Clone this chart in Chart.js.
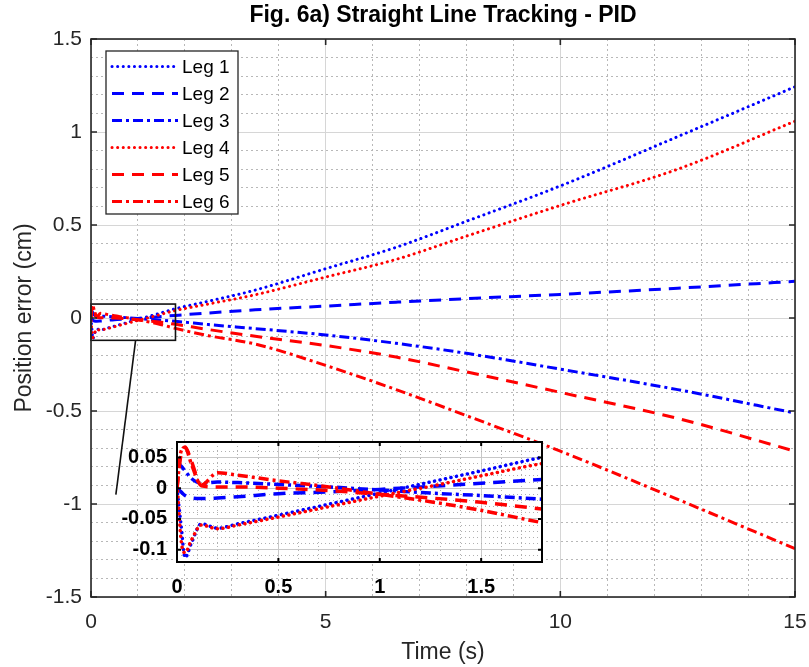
<!DOCTYPE html>
<html>
<head>
<meta charset="utf-8">
<script src="https://cdn.jsdelivr.net/npm/chart.js@4.4.1/dist/chart.umd.min.js"></script>
<style>
  body { margin: 0; background: #fff; }
  #wrap { position: relative; width: 809px; height: 667px; }
  #main { position: absolute; left: 0; top: 0; }
  #inset { position: absolute; left: 100px; top: 432px; }
</style>
</head>
<body>
<div id="wrap">
  <canvas id="main" width="809" height="667"></canvas>
  <canvas id="inset" width="450" height="170"></canvas>
</div>
<script>
// time samples (s) and position error per leg (cm)
const timeS = [0, 0.02, 0.04, 0.07, 0.12, 0.2, 0.3, 0.5, 0.75, 1, 1.25, 1.5, 1.8, 2.5, 3.5, 5, 6.5, 8, 10, 12.5, 15];
const leg1 = [0, -0.06, -0.113, -0.09, -0.058, -0.065, -0.058, -0.044, -0.026, -0.008, 0.01, 0.028, 0.05, 0.09, 0.15, 0.265, 0.38, 0.52, 0.71, 0.975, 1.243];
const leg2 = [0, -0.006, -0.012, -0.016, -0.017, -0.016, -0.014, -0.009, -0.006, -0.002, 0.003, 0.008, 0.014, 0.027, 0.044, 0.064, 0.085, 0.104, 0.127, 0.16, 0.197];
const leg3 = [0.04, 0.036, 0.028, 0.016, 0.008, 0.01, 0.009, 0.006, 0.002, -0.003, -0.008, -0.012, -0.018, -0.035, -0.057, -0.091, -0.136, -0.19, -0.275, -0.385, -0.511];
const leg4 = [0.013, -0.084, -0.105, -0.085, -0.06, -0.066, -0.06, -0.047, -0.03, -0.013, 0.003, 0.02, 0.04, 0.075, 0.125, 0.22, 0.315, 0.44, 0.605, 0.8, 1.058];
const leg5 = [0, 0.055, 0.067, 0.045, 0.004, 0.002, 0.002, 0, -0.004, -0.01, -0.016, -0.023, -0.034, -0.062, -0.098, -0.148, -0.21, -0.29, -0.4, -0.54, -0.716];
const leg6 = [0, 0.06, 0.066, 0.04, 0.005, 0.025, 0.021, 0.012, 0.002, -0.01, -0.022, -0.036, -0.056, -0.095, -0.14, -0.255, -0.385, -0.525, -0.716, -0.975, -1.24];

const legLabels = ['Leg 1', 'Leg 2', 'Leg 3', 'Leg 4', 'Leg 5', 'Leg 6'];
const legValues = [leg1, leg2, leg3, leg4, leg5, leg6];

// labelled ticks
const xTicksMain = [0, 5, 10, 15];
const yTicksMain = [-1.5, -1, -0.5, 0, 0.5, 1, 1.5];
const xTicksInset = [0, 0.5, 1, 1.5];
const yTicksInset = [-0.1, -0.05, 0, 0.05];

// zoomed window shown in the inset
const zoomX = [0, 1.8];
const zoomY = [-0.12, 0.075];

Chart.defaults.font.family = "'Liberation Sans', Arial, sans-serif";

const legColors = ['#0000ff', '#0000ff', '#0000ff', '#ff0000', '#ff0000', '#ff0000'];
const legKinds = ['dot', 'dash', 'dashdot', 'dot', 'dash', 'dashdot'];
const dashes = { dot: [0.1, 5.5], dash: [12, 8], dashdot: [10, 4, 3, 4] };

function makeDatasets(width, clip) {
  return legLabels.map((label, i) => ({
    label: label,
    data: timeS.map((t, j) => ({ x: t, y: legValues[i][j] })),
    borderColor: legColors[i],
    borderWidth: width,
    borderDash: dashes[legKinds[i]],
    borderCapStyle: legKinds[i] === 'dot' ? 'round' : 'butt',
    pointRadius: 0,
    fill: false,
    cubicInterpolationMode: 'monotone',
    order: legLabels.length - i,
    clip: clip
  }));
}

function near(list, v) {
  return list.find(t => Math.abs(t - v) < 1e-6);
}
function labelFor(list, v) {
  const t = near(list, v);
  return t === undefined ? '' : String(t);
}
// keep the label overflow from eating into the plot area
function noOverflow(s) {
  s.paddingLeft = 0; s.paddingRight = 0; s.paddingTop = 0; s.paddingBottom = 0;
}

// box round the plot with inward tick marks, like matlab
function frameTicks(id, majorX, majorY, color, width, len) {
  return {
    id: id,
    afterDraw(chart) {
      const { ctx, chartArea: a, scales } = chart;
      ctx.save();
      ctx.strokeStyle = color;
      ctx.lineWidth = width;
      ctx.beginPath();
      majorX.forEach(v => {
        const px = scales.x.getPixelForValue(v);
        ctx.moveTo(px, a.bottom); ctx.lineTo(px, a.bottom - len);
        ctx.moveTo(px, a.top); ctx.lineTo(px, a.top + len);
      });
      majorY.forEach(v => {
        const py = scales.y.getPixelForValue(v);
        ctx.moveTo(a.left, py); ctx.lineTo(a.left + len, py);
        ctx.moveTo(a.right, py); ctx.lineTo(a.right - len, py);
      });
      ctx.stroke();
      ctx.strokeRect(a.left, a.top, a.right - a.left, a.bottom - a.top);
      ctx.restore();
    }
  };
}

const zoomMark = {
  id: 'zoomMark',
  afterDatasetsDraw(chart) {
    const { ctx, scales: { x, y } } = chart;
    const x0 = x.getPixelForValue(zoomX[0]), x1 = x.getPixelForValue(zoomX[1]);
    const y0 = y.getPixelForValue(zoomY[1]), y1 = y.getPixelForValue(zoomY[0]);
    ctx.save();
    ctx.strokeStyle = '#111';
    ctx.lineWidth = 1.6;
    ctx.strokeRect(x0, y0, x1 - x0, y1 - y0);
    ctx.beginPath();
    ctx.moveTo(x.getPixelForValue(0.95), y1);
    ctx.lineTo(x.getPixelForValue(0.53), y.getPixelForValue(-0.95));
    ctx.stroke();
    ctx.restore();
  }
};

const legendBox = {
  id: 'legendBox',
  afterDraw(chart) {
    const { ctx, chartArea } = chart;
    const sets = chart.data.datasets;
    const x0 = chartArea.left + 15, y0 = chartArea.top + 12, w = 132, rowH = 27;
    const h = rowH * sets.length + 1;
    ctx.save();
    ctx.fillStyle = '#fff';
    ctx.fillRect(x0, y0, w, h);
    ctx.strokeStyle = '#262626';
    ctx.lineWidth = 1.3;
    ctx.strokeRect(x0, y0, w, h);
    ctx.font = "19px 'Liberation Sans', Arial, sans-serif";
    ctx.textBaseline = 'middle';
    sets.forEach((ds, i) => {
      const cy = y0 + 15.5 + i * rowH;
      ctx.beginPath();
      ctx.setLineDash(ds.borderDash);
      ctx.lineCap = ds.borderCapStyle;
      ctx.strokeStyle = ds.borderColor;
      ctx.lineWidth = ds.borderWidth;
      ctx.moveTo(x0 + 6, cy);
      ctx.lineTo(x0 + 72, cy);
      ctx.stroke();
      ctx.setLineDash([]);
      ctx.fillStyle = '#000';
      ctx.fillText(ds.label, x0 + 76, cy + 1);
    });
    ctx.restore();
  }
};

const plotBg = {
  id: 'plotBg',
  beforeDraw(chart) {
    const { ctx, chartArea: a } = chart;
    ctx.save();
    ctx.fillStyle = '#fff';
    ctx.fillRect(a.left, a.top, a.right - a.left, a.bottom - a.top);
    ctx.restore();
  }
};

new Chart(document.getElementById('main'), {
  type: 'line',
  data: { datasets: makeDatasets(3, undefined) },
  options: {
    responsive: false,
    animation: false,
    layout: { padding: { left: 0, right: 14, top: 0, bottom: 0 } },
    plugins: {
      legend: { display: false },
      tooltip: { enabled: false },
      title: {
        display: true,
        fullSize: false,
        text: 'Fig. 6a) Straight Line Tracking - PID',
        color: '#000',
        font: { size: 23, weight: 'bold' },
        padding: { top: 2, bottom: 9.4 }
      }
    },
    scales: {
      x: {
        type: 'linear', min: 0, max: 15,
        ticks: {
          stepSize: 1, autoSkip: false, maxRotation: 0, padding: 13,
          color: '#262626', font: { size: 21 },
          callback: v => labelFor(xTicksMain, v)
        },
        grid: {
          drawTicks: false, lineWidth: 1,
          color: c => near(xTicksMain, c.tick ? c.tick.value : 0) !== undefined ? '#d6d6d6' : '#b8b8b8'
        },
        border: {
          display: false,
          dash: c => (c.tick && near(xTicksMain, c.tick.value) === undefined) ? [2, 3] : []
        },
        title: { display: true, text: 'Time (s)', color: '#262626', font: { size: 23 }, padding: { top: 0, bottom: 1 } },
        afterFit: s => { s.height = 70; noOverflow(s); }
      },
      y: {
        type: 'linear', min: -1.5, max: 1.5,
        ticks: {
          stepSize: 0.1, autoSkip: false, padding: 9,
          color: '#262626', font: { size: 21 },
          callback: v => labelFor(yTicksMain, v)
        },
        grid: {
          drawTicks: false, lineWidth: 1,
          color: c => near(yTicksMain, c.tick ? c.tick.value : 0) !== undefined ? '#d6d6d6' : '#b8b8b8'
        },
        border: {
          display: false,
          dash: c => (c.tick && near(yTicksMain, c.tick.value) === undefined) ? [2, 3] : []
        },
        title: { display: true, text: 'Position error (cm)', color: '#262626', font: { size: 23 }, padding: { top: 11, bottom: 0 } },
        afterFit: s => { s.width = 91; noOverflow(s); }
      }
    }
  },
  plugins: [frameTicks('frameMain', xTicksMain, yTicksMain, '#262626', 1.6, 6), zoomMark, legendBox]
});

new Chart(document.getElementById('inset'), {
  type: 'line',
  data: { datasets: makeDatasets(3.5, 0) },
  options: {
    responsive: false,
    animation: false,
    layout: { padding: { left: 0, right: 8, top: 10, bottom: 0 } },
    plugins: { legend: { display: false }, tooltip: { enabled: false }, title: { display: false } },
    scales: {
      x: {
        type: 'linear', min: zoomX[0], max: zoomX[1],
        ticks: {
          stepSize: 0.1, autoSkip: false, maxRotation: 0, padding: 13,
          color: '#000', font: { size: 20, weight: 'bold' },
          callback: v => labelFor(xTicksInset, v)
        },
        grid: {
          drawTicks: false, lineWidth: 1,
          color: c => near(xTicksInset, c.tick ? c.tick.value : 0) !== undefined ? '#c8c8c8' : '#b0b0b0'
        },
        border: {
          display: false,
          dash: c => (c.tick && near(xTicksInset, c.tick.value) === undefined) ? [1, 3] : []
        },
        afterFit: s => { s.height = 40; noOverflow(s); }
      },
      y: {
        type: 'linear', min: zoomY[0], max: zoomY[1],
        ticks: {
          stepSize: 0.01, autoSkip: false, padding: 10,
          color: '#000', font: { size: 20, weight: 'bold' },
          callback: v => labelFor(yTicksInset, v)
        },
        grid: {
          drawTicks: false, lineWidth: 1,
          color: c => near(yTicksInset, c.tick ? c.tick.value : 0) !== undefined ? '#c8c8c8' : '#b0b0b0'
        },
        border: {
          display: false,
          dash: c => (c.tick && near(yTicksInset, c.tick.value) === undefined) ? [1, 3] : []
        },
        afterFit: s => { s.width = 77; noOverflow(s); }
      }
    }
  },
  plugins: [plotBg, frameTicks('frameInset', xTicksInset, yTicksInset, '#000', 2, 4)]
});
</script>
</body>
</html>
